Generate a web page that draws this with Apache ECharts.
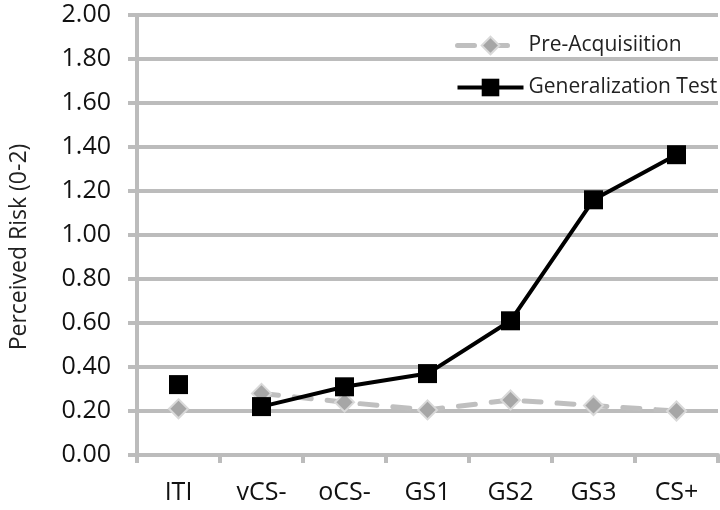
<!DOCTYPE html>
<html><head><meta charset="utf-8">
<script src="https://cdn.jsdelivr.net/npm/echarts@6/dist/echarts.min.js"></script>
<style>html,body{margin:0;padding:0;background:#fff}#c{width:720px;height:510px}</style>
</head><body><div id="c"></div>
<script>
const categories = ['ITI', 'vCS-', 'oCS-', 'GS1', 'GS2', 'GS3', 'CS+'];
const preAcqValues = ['-', 0.28, 0.24, 0.205, 0.25, 0.225, 0.20];
const preAcqITI = [0.21, '-', '-', '-', '-', '-', '-'];
const genTestValues = ['-', 0.22, 0.31, 0.37, 0.61, 1.16, 1.365];
const genTestITI = [0.32, '-', '-', '-', '-', '-', '-'];
const yTicks = [0, 0.2, 0.4, 0.6, 0.8, 1.0, 1.2, 1.4, 1.6, 1.8, 2.0];

const FONT = 'Open Sans';
const GRAY = '#bcbcbc';
const preStyle = {
  type: 'line', name: 'Pre-Acquisiition', symbol: 'diamond', symbolSize: 19,
  itemStyle: { color: '#a6a6a6', borderColor: '#d9d9d9', borderWidth: 2 },
  lineStyle: { color: '#bfbfbf', width: 5, type: [17, 16], cap: 'round' },
  z: 2
};
const genStyle = {
  type: 'line', name: 'Generalization Test', symbol: 'rect', symbolSize: 19,
  itemStyle: { color: '#000' },
  lineStyle: { color: '#000', width: 4 },
  z: 3
};
const chart = echarts.init(document.getElementById('c'));
chart.setOption({
  animation: false,
  textStyle: { fontFamily: FONT },
  grid: { left: 135, right: 2, top: 15, bottom: 55, containLabel: false },
  legend: {
    data: [
      { name: 'Pre-Acquisiition', lineStyle: { width: 5, color: '#bfbfbf' } },
      { name: 'Generalization Test', lineStyle: { width: 4, color: '#000' } }
    ],
    orient: 'vertical', left: 450, top: 30, itemGap: 21, padding: 5,
    itemWidth: 66, itemHeight: 22,
    textStyle: { fontFamily: FONT, fontSize: 21, color: '#222' }
  },
  xAxis: {
    type: 'category', data: categories, boundaryGap: true,
    axisLine: { lineStyle: { color: GRAY, width: 4 } },
    axisTick: { show: true, length: 8, lineStyle: { color: GRAY, width: 4 } },
    axisLabel: { margin: 25, fontSize: 25, color: '#111', fontFamily: FONT },
    splitLine: { show: false }
  },
  yAxis: {
    type: 'value', min: 0, max: 2, interval: 0.2,
    name: 'Perceived Risk (0-2)', nameLocation: 'middle', nameGap: 106,
    nameTextStyle: { fontSize: 23, color: '#222', fontFamily: FONT, padding: [0, 24, 0, 0] },
    axisLine: { show: true, lineStyle: { color: GRAY, width: 4 } },
    axisTick: { show: true, length: 9, lineStyle: { color: GRAY, width: 4 } },
    axisLabel: { margin: 26, fontSize: 25, color: '#111', fontFamily: FONT,
      formatter: v => { const t = yTicks.find(x => Math.abs(x - v) < 1e-9); return (t !== undefined ? t : v).toFixed(2); } },
    splitLine: { show: true, lineStyle: { color: GRAY, width: 4 } }
  },
  series: [
    Object.assign({}, preStyle, { data: preAcqValues }),
    Object.assign({}, genStyle, { data: genTestValues }),
    Object.assign({}, preStyle, { data: preAcqITI }),
    Object.assign({}, genStyle, { data: genTestITI })
  ]
});
</script></body></html>
